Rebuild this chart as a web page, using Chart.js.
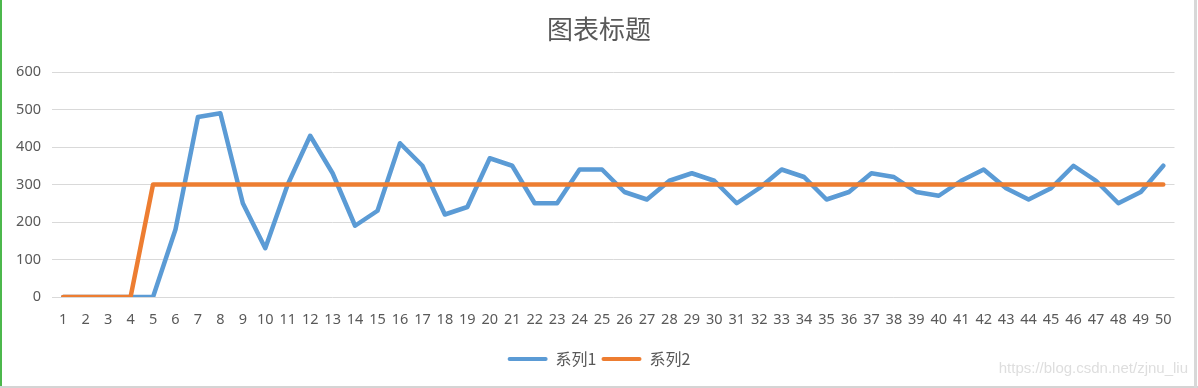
<!DOCTYPE html>
<html>
<head>
<meta charset="utf-8">
<script src="https://cdn.jsdelivr.net/npm/chart.js@4/dist/chart.umd.min.js"></script>
<style>
  html, body { margin: 0; padding: 0; background: #ffffff; }
  #wrap { position: relative; width: 1198px; height: 388px; overflow: hidden; background: #fff; }
  #chart { position: absolute; left: 0; top: 0; }
  .bl { position: absolute; left: 0; top: 0; width: 2px; height: 388px; background: #4cb84c; }
  .bb { position: absolute; left: 0; top: 386px; width: 1198px; height: 2px; background: #d4d4d4; }
  .br { position: absolute; left: 1194px; top: 0; width: 3px; height: 388px; background: #d8d8d8; }
</style>
</head>
<body>
<div id="wrap">
  <canvas id="chart" width="1198" height="388"></canvas>
  <div class="bl"></div><div class="bb"></div><div class="br"></div>
</div>
<script>
const chartTitle = '图表标题';
const seriesNames = ['系列1', '系列2'];
const categories = ['1','2','3','4','5','6','7','8','9','10','11','12','13','14','15','16','17','18','19','20','21','22','23','24','25','26','27','28','29','30','31','32','33','34','35','36','37','38','39','40','41','42','43','44','45','46','47','48','49','50'];
const series1 = [0,0,0,0,0,180,480,490,250,130,300,430,330,190,230,410,350,220,240,370,350,250,250,340,340,280,260,310,330,310,250,290,340,320,260,280,330,320,280,270,310,340,290,260,290,350,310,250,280,350];
const series2 = [0,0,0,0,300,300,300,300,300,300,300,300,300,300,300,300,300,300,300,300,300,300,300,300,300,300,300,300,300,300,300,300,300,300,300,300,300,300,300,300,300,300,300,300,300,300,300,300,300,300];
const yMin = 0, yMax = 600, yStep = 100;
const watermark = 'https://blog.csdn.net/zjnu_liu';

const BLUE = '#5b9bd5', ORANGE = '#ed7d31', GREY = '#595959', GRID = '#d9d9d9';
const tickFont = { family: '"Noto Sans", sans-serif', size: 14.5 };

const watermarkPlugin = {
  id: 'watermark',
  afterDraw(chart) {
    const ctx = chart.ctx;
    ctx.save();
    ctx.font = '15px "Liberation Sans", Arial, sans-serif';
    ctx.fillStyle = '#dedede';
    ctx.textAlign = 'right';
    ctx.textBaseline = 'middle';
    ctx.fillText(watermark, 1188, 369);
    ctx.restore();
  }
};

const origGen = Chart.defaults.plugins.legend.labels.generateLabels;

new Chart(document.getElementById('chart'), {
  type: 'line',
  data: {
    labels: categories,
    datasets: [
      { label: seriesNames[0], data: series1, borderColor: BLUE, backgroundColor: BLUE, order: 1 },
      { label: seriesNames[1], data: series2, borderColor: ORANGE, backgroundColor: ORANGE, order: 0 }
    ]
  },
  options: {
    responsive: false,
    animation: false,
    devicePixelRatio: 1,
    layout: { padding: { left: 0, right: 0, top: 0, bottom: 11 } },
    elements: {
      line: { borderWidth: 4.5, tension: 0, borderCapStyle: 'round', borderJoinStyle: 'round' },
      point: { radius: 0, hoverRadius: 0 }
    },
    plugins: {
      tooltip: { enabled: false },
      title: {
        display: true,
        text: chartTitle,
        color: GREY,
        font: { family: '"Noto Sans CJK SC", sans-serif', size: 26, weight: 'normal' },
        padding: { top: 13.4, bottom: 27.4 }
      },
      legend: {
        display: true,
        position: 'bottom',
        labels: {
          color: GREY,
          font: { family: '"Noto Sans CJK SC", sans-serif', size: 16 },
          boxWidth: 40,
          boxHeight: 4,
          padding: 5,
          useBorderRadius: true,
          borderRadius: 2,
          sort: (a, b) => a.datasetIndex - b.datasetIndex,
          generateLabels(chart) {
            return origGen(chart).map(it => Object.assign(it, { lineWidth: 0, fillStyle: it.strokeStyle }));
          }
        }
      }
    },
    scales: {
      x: {
        type: 'category',
        offset: true,
        grid: { display: false, drawTicks: false },
        border: { display: false },
        ticks: { color: GREY, font: tickFont, padding: 14, maxRotation: 0, autoSkip: false },
        afterFit(scale) { scale.height = 49; }
      },
      y: {
        min: yMin, max: yMax,
        grid: { color: GRID, lineWidth: 1, drawTicks: false },
        border: { display: false },
        ticks: { stepSize: yStep, color: GREY, font: tickFont, padding: 11 },
        afterFit(scale) { scale.width = 52; }
      },
      yRightSpace: {
        position: 'right',
        display: true,
        min: yMin, max: yMax,
        grid: { display: false, drawTicks: false },
        border: { display: false },
        ticks: { display: false },
        afterFit(scale) { scale.width = 23.5; }
      }
    }
  },
  plugins: [watermarkPlugin]
});
</script>
</body>
</html>
